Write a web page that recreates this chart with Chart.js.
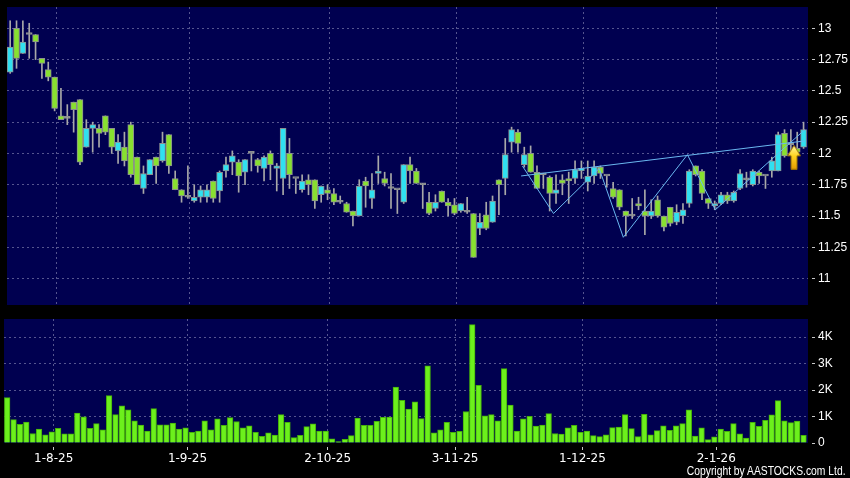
<!DOCTYPE html>
<html>
<head>
<meta charset="utf-8">
<script src="https://cdn.jsdelivr.net/npm/chart.js@4.4.1/dist/chart.umd.min.js"></script>
<style>
    html, body { margin: 0; padding: 0; background: #000; }
    #wrap { position: relative; width: 850px; height: 478px; overflow: hidden; background: #000; }
    #priceChart { position: absolute; left: 0; top: 0; }
    #volChart { position: absolute; left: 0; top: 312px; }
    #copy {
        position: absolute; right: 4px; top: 463px; color: #fff; white-space: nowrap;
        font: 12px/16px 'Liberation Sans', Arial, sans-serif;
        transform: scaleX(0.86); transform-origin: right center;
    }
</style>
</head>
<body>
<div id="wrap">
    <canvas id="priceChart" width="850" height="312"></canvas>
    <canvas id="volChart" width="850" height="166"></canvas>
    <div id="copy">Copyright by AASTOCKS.com Ltd.</div>
</div>
<script>
// Daily candles, oldest first
const opens = [
    12.65, 13.00, 12.80, 12.95, 12.95, 12.76, 12.67, 12.61, 12.30, 12.28,
    12.41, 12.43, 12.05, 12.20, 12.20, 12.30, 12.20, 12.02, 12.05, 12.23,
    11.97, 11.72, 11.83, 11.97, 11.94, 12.15, 11.80, 11.71, 11.65, 11.62,
    11.65, 11.65, 11.78, 11.70, 11.86, 11.93, 11.93, 11.85, 12.00, 11.95,
    11.88, 12.00, 11.88, 11.80, 12.00, 11.80, 11.71, 11.79, 11.79, 11.67,
    11.71, 11.68, 11.61, 11.60, 11.54, 11.50, 11.78, 11.64, 11.84, 11.80,
    11.72, 11.71, 11.61, 11.91, 11.86, 11.75, 11.61, 11.56, 11.70, 11.61,
    11.59, 11.54, 11.53, 11.52, 11.40, 11.51, 11.45, 11.79, 11.80, 12.09,
    12.17, 11.91, 12.00, 11.85, 11.83, 11.81, 11.68, 11.79, 11.80, 11.80,
    11.86, 11.77, 11.82, 11.89, 11.82, 11.72, 11.71, 11.54, 11.50, 11.60,
    11.54, 11.50, 11.63, 11.50, 11.57, 11.45, 11.50, 11.60, 11.90, 11.86,
    11.64, 11.58, 11.60, 11.67, 11.62, 11.72, 11.79, 11.75, 11.85, 11.82,
    11.86, 11.86, 12.16, 12.07, 12.04, 12.05
];
const highs = [
    13.06, 13.06, 13.06, 13.04, 12.95, 12.76, 12.73, 12.61, 12.52, 12.39,
    12.41, 12.43, 12.27, 12.25, 12.23, 12.30, 12.20, 12.15, 12.17, 12.25,
    11.97, 11.90, 11.95, 11.97, 12.17, 12.15, 11.86, 11.71, 11.90, 11.75,
    11.74, 11.75, 11.78, 11.86, 11.97, 12.02, 11.95, 11.95, 12.00, 11.96,
    11.98, 12.02, 11.92, 12.20, 12.12, 11.80, 11.83, 11.83, 11.79, 11.74,
    11.75, 11.72, 11.66, 11.61, 11.54, 11.79, 11.81, 11.84, 11.98, 11.85,
    11.84, 11.71, 11.91, 11.97, 11.88, 11.76, 11.69, 11.67, 11.70, 11.64,
    11.64, 11.60, 11.65, 11.52, 11.52, 11.61, 11.66, 11.79, 12.12, 12.21,
    12.19, 12.05, 12.06, 11.90, 11.84, 11.82, 11.83, 11.83, 11.85, 11.94,
    11.94, 11.94, 11.94, 11.90, 11.82, 11.77, 11.71, 11.54, 11.64, 11.65,
    11.71, 11.63, 11.66, 11.50, 11.57, 11.59, 11.60, 11.87, 11.90, 11.87,
    11.64, 11.62, 11.69, 11.69, 11.70, 11.87, 11.85, 11.87, 11.86, 11.82,
    11.97, 12.17, 12.19, 12.19, 12.17, 12.25
];
const lows = [
    12.64, 12.68, 12.80, 12.76, 12.75, 12.60, 12.58, 12.34, 12.27, 12.23,
    12.17, 11.91, 12.05, 12.01, 12.05, 12.15, 12.00, 11.92, 11.90, 11.81,
    11.75, 11.68, 11.83, 11.76, 11.93, 11.84, 11.71, 11.61, 11.64, 11.61,
    11.61, 11.61, 11.61, 11.61, 11.81, 11.83, 11.69, 11.75, 11.86, 11.85,
    11.78, 11.79, 11.70, 11.67, 11.72, 11.68, 11.69, 11.67, 11.56, 11.61,
    11.63, 11.59, 11.60, 11.53, 11.42, 11.50, 11.57, 11.56, 11.76, 11.74,
    11.56, 11.52, 11.60, 11.76, 11.76, 11.56, 11.51, 11.54, 11.61, 11.50,
    11.51, 11.53, 11.52, 11.17, 11.35, 11.39, 11.45, 11.51, 11.67, 12.01,
    12.01, 11.89, 11.85, 11.72, 11.72, 11.54, 11.60, 11.67, 11.60, 11.76,
    11.80, 11.70, 11.76, 11.80, 11.73, 11.64, 11.55, 11.34, 11.48, 11.55,
    11.35, 11.48, 11.49, 11.38, 11.42, 11.43, 11.44, 11.57, 11.82, 11.63,
    11.56, 11.55, 11.59, 11.60, 11.61, 11.71, 11.73, 11.74, 11.76, 11.72,
    11.81, 11.86, 11.97, 12.00, 12.00, 12.04
];
const closes = [
    12.85, 12.76, 12.89, 12.95, 12.89, 12.72, 12.61, 12.36, 12.27, 12.28,
    12.35, 11.93, 12.20, 12.23, 12.16, 12.17, 12.05, 12.09, 11.94, 11.83,
    11.75, 11.84, 11.95, 11.90, 12.08, 11.90, 11.71, 11.66, 11.65, 11.65,
    11.71, 11.71, 11.64, 11.85, 11.91, 11.98, 11.82, 11.95, 12.00, 11.90,
    11.97, 11.91, 11.90, 12.20, 11.83, 11.80, 11.78, 11.75, 11.62, 11.74,
    11.68, 11.61, 11.61, 11.53, 11.50, 11.74, 11.74, 11.71, 11.86, 11.76,
    11.72, 11.71, 11.91, 11.86, 11.76, 11.75, 11.52, 11.61, 11.61, 11.58,
    11.52, 11.60, 11.53, 11.17, 11.45, 11.40, 11.62, 11.75, 11.99, 12.19,
    12.08, 11.99, 11.85, 11.72, 11.83, 11.68, 11.71, 11.76, 11.78, 11.87,
    11.88, 11.82, 11.89, 11.84, 11.82, 11.65, 11.57, 11.50, 11.50, 11.58,
    11.50, 11.54, 11.50, 11.41, 11.44, 11.53, 11.55, 11.86, 11.83, 11.68,
    11.60, 11.60, 11.67, 11.62, 11.69, 11.84, 11.79, 11.86, 11.82, 11.82,
    11.94, 12.15, 11.98, 12.07, 12.01, 12.19
];
// Daily volume (shares)
const volumes = [
    1710, 880, 700, 790, 360, 530, 310, 420, 550, 350,
    350, 1130, 990, 550, 730, 500, 1790, 1070, 1400, 1250,
    840, 680, 450, 1300, 690, 690, 750, 530, 570, 400,
    450, 840, 500, 910, 670, 960, 810, 570, 650, 400,
    250, 380, 300, 1070, 780, 200, 290, 620, 720, 450,
    450, 160, 50, 140, 280, 940, 670, 670, 820, 970,
    980, 2110, 1610, 1280, 1550, 920, 2910, 380, 500, 780,
    400, 440, 1190, 4470, 2180, 1030, 1070, 840, 2810, 1430,
    450, 910, 1010, 640, 680, 1110, 360, 340, 570, 670,
    400, 450, 280, 240, 310, 580, 600, 1070, 540, 240,
    1080, 310, 470, 650, 480, 650, 730, 1250, 260, 570,
    130, 230, 530, 440, 730, 350, 190, 780, 630, 860,
    1060, 1600, 840, 770, 830, 290
];

// Date axis: bar index of the first trading day of each month
const monthStartIdx = [7, 28, 50, 70, 90, 111];
const monthLabels = ['1-8-25', '1-9-25', '2-10-25', '3-11-25', '1-12-25', '2-1-26'];

const priceTicks = [11, 11.25, 11.5, 11.75, 12, 12.25, 12.5, 12.75, 13];
const volumeTicks = [0, 1000, 2000, 3000, 4000];

// Drawn pattern lines (bar index / price)
const zigzagIdx = [80.7, 85.6, 92.8, 96.6, 106.7, 111.1, 125.2];
const zigzagPrice = [11.90, 11.52, 11.88, 11.33, 11.99, 11.55, 12.19];
const trendIdx = [80.5, 125.2];
const trendPrice = [11.82, 12.10];
const arrowIdx = 123.5;
const arrowPrice = 11.97;

// Colours
const NAVY = '#000050';
const GRID = '#55558f';
const TICK = '#c8c8c8';
const UP = '#30e0f0';
const DOWN = '#88e030';
const FLAT = '#a0a0a0';
const LINE = '#6ab8f0';

const X_MIN = -0.5;
const X_MAX = 125.7;

const candleColor = (i) => closes[i] > opens[i] ? UP : (closes[i] < opens[i] ? DOWN : FLAT);

// Fill the plot area with navy
const plotBg = {
    id: 'plotBg',
    beforeDraw(chart) {
        const { ctx, chartArea: a } = chart;
        ctx.save();
        ctx.fillStyle = NAVY;
        ctx.fillRect(a.left, a.top, a.right - a.left, a.bottom - a.top);
        ctx.restore();
    }
};

const zeroPad = (s) => {
    s.paddingTop = 0;
    s.paddingBottom = 0;
    s.paddingLeft = 0;
    s.paddingRight = 0;
};

const monthTicks = (s) => {
    s.ticks = monthStartIdx.map(i => ({ value: i + 0.3 }));
};

// Yellow up arrow marker
const arrowImg = document.createElement('canvas');
arrowImg.width = 14;
arrowImg.height = 25;
(() => {
    const a = arrowImg.getContext('2d');
    const g = a.createLinearGradient(0, 0, 0, 25);
    g.addColorStop(0, '#fff9a8');
    g.addColorStop(0.45, '#ffd420');
    g.addColorStop(1, '#e39a00');
    a.beginPath();
    a.moveTo(7, 0.5);
    a.lineTo(13.5, 11);
    a.lineTo(10, 11);
    a.lineTo(10, 24.5);
    a.lineTo(4, 24.5);
    a.lineTo(4, 11);
    a.lineTo(0.5, 11);
    a.closePath();
    a.fillStyle = g;
    a.fill();
    a.strokeStyle = '#9a7000';
    a.lineWidth = 1;
    a.stroke();
})();

const wicks = opens.map((o, i) => ({ x: i, y: [lows[i], highs[i]] }));
const bodies = opens.map((o, i) => ({ x: i, y: [Math.min(o, closes[i]), Math.max(o, closes[i])] }));
const bodyColors = opens.map((o, i) => candleColor(i));
const zigzag = zigzagIdx.map((x, i) => ({ x: x, y: zigzagPrice[i] }));
const trend = trendIdx.map((x, i) => ({ x: x, y: trendPrice[i] }));

new Chart(document.getElementById('priceChart'), {
    type: 'bar',
    data: {
        datasets: [
            {
                type: 'scatter',
                data: [{ x: arrowIdx, y: arrowPrice }],
                pointStyle: arrowImg,
                pointRadius: 6,
                order: 0
            },
            {
                type: 'line',
                data: zigzag,
                borderColor: LINE,
                borderWidth: 1,
                pointRadius: 0,
                order: 1
            },
            {
                type: 'line',
                data: trend,
                borderColor: LINE,
                borderWidth: 1,
                pointRadius: 0,
                order: 1
            },
            {
                data: bodies,
                backgroundColor: bodyColors,
                borderColor: '#8c9090',
                borderWidth: 1,
                borderSkipped: false,
                barThickness: 6,
                minBarLength: 2,
                grouped: false,
                order: 2
            },
            {
                data: wicks,
                backgroundColor: '#a8a8a8',
                barThickness: 1,
                grouped: false,
                order: 3
            }
        ]
    },
    options: {
        responsive: false,
        animation: false,
        events: [],
        layout: { padding: { left: 4, top: 5, right: 0, bottom: 6 } },
        plugins: { legend: { display: false }, tooltip: { enabled: false } },
        scales: {
            x: {
                type: 'linear',
                min: X_MIN,
                max: X_MAX,
                offset: false,
                afterBuildTicks: monthTicks,
                afterFit: (s) => { s.height = 0; zeroPad(s); },
                ticks: { display: false },
                grid: { offset: false, color: GRID, drawTicks: false },
                border: { display: false, dash: [2, 3] }
            },
            y: {
                position: 'right',
                min: 10.789,
                max: 13.17,
                afterBuildTicks: (s) => { s.ticks = priceTicks.map(v => ({ value: v })); },
                afterFit: (s) => { s.width = 42; zeroPad(s); },
                ticks: {
                    color: '#fff',
                    padding: 3,
                    font: { family: "'Liberation Sans', Arial, sans-serif", size: 12 },
                    callback: (v) => String(v)
                },
                grid: { color: GRID, tickLength: 7, tickColor: TICK, tickBorderDash: [0, 4, 3, 20] },
                border: { display: false, dash: [2, 3] }
            }
        }
    },
    plugins: [plotBg]
});

new Chart(document.getElementById('volChart'), {
    type: 'bar',
    data: {
        datasets: [{
            data: volumes.map((v, i) => ({ x: i, y: v })),
            backgroundColor: '#6cf01c',
            borderColor: '#45b00a',
            borderWidth: 1,
            barThickness: 5.6
        }]
    },
    options: {
        responsive: false,
        animation: false,
        events: [],
        layout: { padding: { left: 4, top: 7, right: 0, bottom: 0 } },
        plugins: { legend: { display: false }, tooltip: { enabled: false } },
        scales: {
            x: {
                type: 'linear',
                min: X_MIN,
                max: X_MAX,
                offset: false,
                afterBuildTicks: monthTicks,
                afterFit: (s) => { s.height = 35; zeroPad(s); },
                ticks: {
                    color: '#fff',
                    padding: 2,
                    autoSkip: false,
                    maxRotation: 0,
                    font: { family: "'DejaVu Sans', sans-serif", size: 12 },
                    callback: (v, i) => monthLabels[i]
                },
                grid: { offset: false, color: GRID, tickLength: 7, tickColor: TICK, tickBorderDash: [0, 4, 3, 20] },
                border: { display: false, dash: [2, 3] }
            },
            y: {
                position: 'right',
                min: 0,
                max: 4680,
                afterBuildTicks: (s) => { s.ticks = volumeTicks.map(v => ({ value: v })); },
                afterFit: (s) => { s.width = 42; zeroPad(s); },
                ticks: {
                    color: '#fff',
                    padding: 3,
                    font: { family: "'Liberation Sans', Arial, sans-serif", size: 12 },
                    callback: (v) => v === 0 ? '0' : (v / 1000) + 'K'
                },
                grid: {
                    color: (c) => (c.tick && c.tick.value === 0) ? 'rgba(0,0,0,0)' : GRID,
                    tickLength: 7,
                    tickColor: TICK,
                    tickBorderDash: [0, 4, 3, 20]
                },
                border: { display: false, dash: [2, 3] }
            }
        }
    },
    plugins: [plotBg]
});
</script>
</body>
</html>
